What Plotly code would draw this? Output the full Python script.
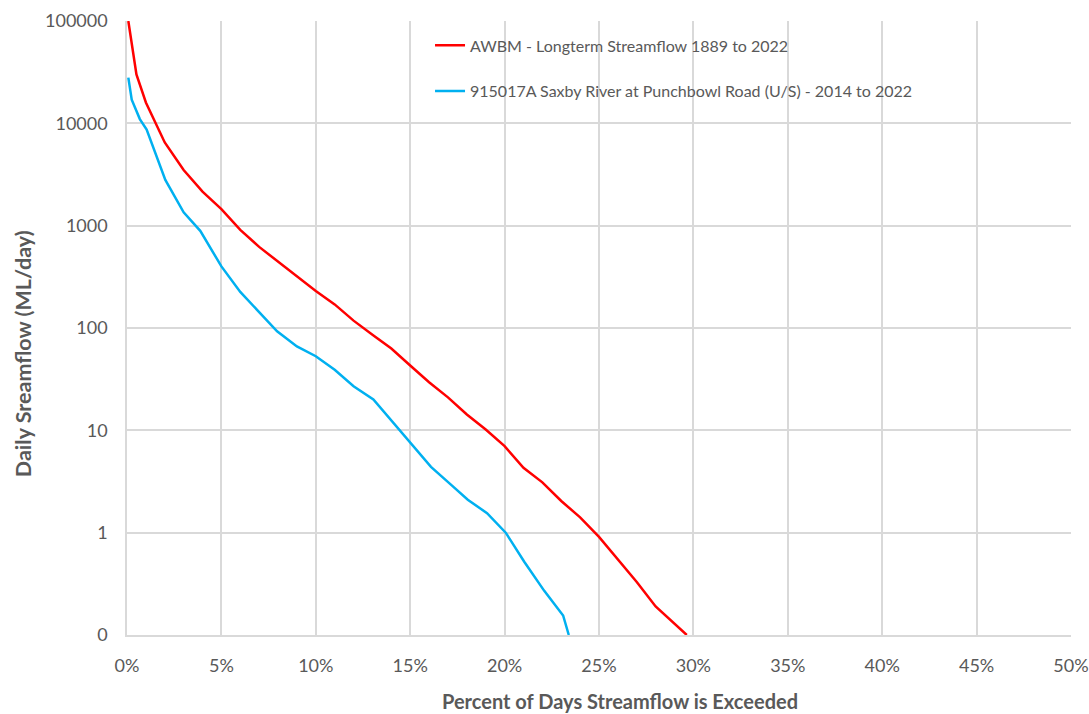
import plotly.graph_objects as go

# Red: AWBM - Longterm Streamflow 1889 to 2022
awbm_pct = [0.07, 0.25, 0.5, 1, 2, 3, 4, 5, 6, 7, 8, 9, 10, 11, 12, 13, 14, 15, 16, 17, 18, 19, 20,
            21, 22, 23, 24, 25, 26, 27, 28, 29, 29.65]
awbm_flow = [100000, 59000, 30000, 16000, 6500, 3500, 2150, 1450, 910, 620, 445, 315, 230, 170, 118,
             86, 63, 43, 29.5, 21, 14.3, 10.2, 7.0, 4.3, 3.1, 2.04, 1.41, 0.91, 0.55, 0.33, 0.19, 0.13, 0.1]

# Blue: 915017A Saxby River at Punchbowl Road (U/S) - 2014 to 2022
saxby_pct = [0.07, 0.25, 0.68, 1.04, 2.03, 3.0, 3.88, 5.0, 6.0, 7.95, 9.0, 10.0, 11.0, 12.0, 13.05,
             15.0, 16.1, 17.2, 18.05, 19.07, 20.06, 21.04, 22.1, 23.1, 23.4]
saxby_flow = [28000, 17000, 11000, 8700, 2800, 1350, 890, 400, 225, 93, 66, 53, 39, 27, 20,
              7.6, 4.4, 2.9, 2.1, 1.55, 1.0, 0.52, 0.27, 0.155, 0.1]

y_tickvals = [0.1, 1, 10, 100, 1000, 10000, 100000]
y_ticktext = ["0", "1", "10", "100", "1000", "10000", "100000"]
x_tickvals = [0, 5, 10, 15, 20, 25, 30, 35, 40, 45, 50]
x_ticktext = [f"{v}%" for v in x_tickvals]

x_title = "Percent of Days Streamflow is Exceeded"
y_title = "Daily Sreamflow (ML/day)"

FONT = "Lato"
GRAY = "#595959"
GRID = "#d9d9d9"

fig = go.Figure()
fig.add_trace(go.Scatter(x=awbm_pct, y=awbm_flow, mode="lines",
                         name="AWBM - Longterm Streamflow 1889 to 2022",
                         line=dict(color="#ff0000", width=2.5), legendgroup="a"))
fig.add_trace(go.Scatter(x=saxby_pct, y=saxby_flow, mode="lines",
                         name="915017A Saxby River at Punchbowl Road (U/S) - 2014 to 2022",
                         line=dict(color="#00b0f0", width=2.5), legendgroup="b"))

fig.update_layout(
    width=1089, height=714,
    margin=dict(l=127, r=18, t=21, b=79),
    paper_bgcolor="white", plot_bgcolor="white",
    font=dict(family=FONT, color=GRAY, size=18),
    showlegend=True,
    legend=dict(x=0.321, y=0.988, xanchor="left", yanchor="top",
                bgcolor="rgba(0,0,0,0)", font=dict(size=16, color=GRAY),
                tracegroupgap=22, itemwidth=30),
    xaxis=dict(range=[0, 50], tickvals=x_tickvals, ticktext=x_ticktext,
               showgrid=True, gridcolor=GRID, gridwidth=1.5,
               showline=True, linecolor=GRID, linewidth=1.5,
               ticks="", zeroline=False, tickfont=dict(size=18, color=GRAY),
               ticklabelstandoff=14, automargin=False),
    yaxis=dict(type="log", range=[-1, 5], tickvals=y_tickvals, ticktext=y_ticktext,
               showgrid=True, gridcolor=GRID, gridwidth=1.5,
               showline=True, linecolor=GRID, linewidth=1.5, mirror=False,
               ticks="", zeroline=False, tickfont=dict(size=18, color=GRAY),
               ticklabelstandoff=14, automargin=False),
    annotations=[
        dict(text=f"<b>{x_title}</b>", xref="paper", yref="paper",
             x=0.522, y=-0.108, xanchor="center", yanchor="middle",
             showarrow=False, font=dict(size=20, color=GRAY)),
        dict(text=f"<b>{y_title}</b>", xref="paper", yref="paper",
             x=-0.110, y=0.4577, xanchor="center", yanchor="middle", textangle=-90,
             showarrow=False, font=dict(size=21.5, color=GRAY)),
    ],
)

fig.write_html("out.html")
